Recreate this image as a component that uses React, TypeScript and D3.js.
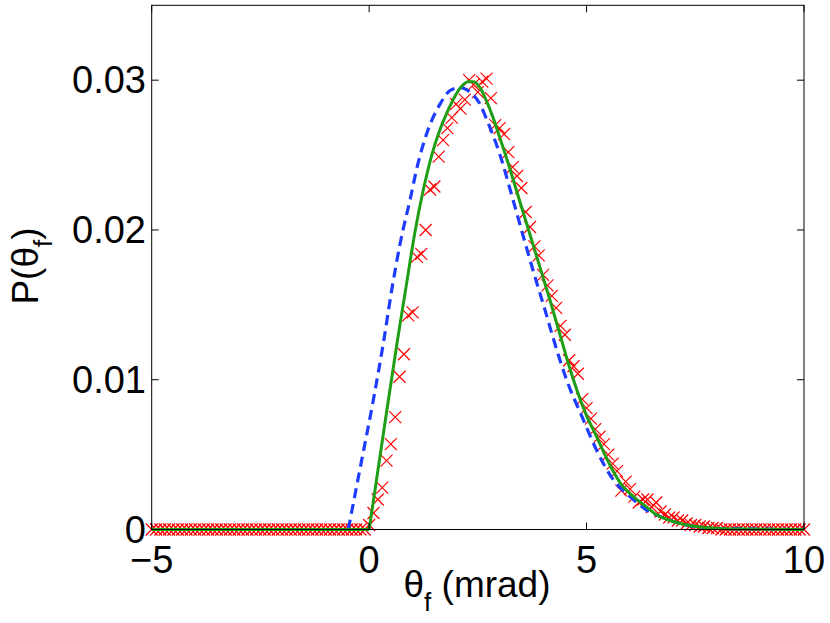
import React from "react";
import * as d3 from "d3";

type Pt = [number, number];

const WIDTH = 830;
const HEIGHT = 623;
const FONT = "'Liberation Sans', Arial, Helvetica, sans-serif";

// measured histogram, one value every 0.1 mrad from -5 to 10
const histStep = 0.1;
const histStart = -5;
const histLeftZeros = 50; // -5.0 .. -0.1
const histValues = [
  0.0003, 0.0011, 0.002, 0.0028, 0.0046, 0.0057, 0.0075, 0.0102, 0.0117, 0.0143,
  0.0145, 0.0182, 0.0184, 0.02, 0.0227, 0.0229, 0.0249, 0.026, 0.0268, 0.0275,
  0.0284, 0.0281, 0.0287, 0.03, 0.0297, 0.0292, 0.0299, 0.0301, 0.0288, 0.027,
  0.0268, 0.0264, 0.0252, 0.0242, 0.0236, 0.0228, 0.0212, 0.0202, 0.0189, 0.0183,
  0.017, 0.0163, 0.0156, 0.0148, 0.0136, 0.013, 0.0113, 0.0109, 0.0104, 0.0087,
  0.0081, 0.0074, 0.0067, 0.0062, 0.0057, 0.005, 0.0044, 0.0039, 0.0026, 0.0032,
  0.0027, 0.0022, 0.0018, 0.002, 0.002, 0.0015, 0.0018, 0.0012, 0.001, 0.0008,
  0.0008, 0.0006, 0.0006, 0.0004, 0.0003, 0.0003, 0.0002, 0.0002, 0.0001, 0.0001,
  0.0001,
];
const histRightZeros = 20; // 8.1 .. 10.0
const histP = [
  ...Array(histLeftZeros).fill(0),
  ...histValues,
  ...Array(histRightZeros).fill(0),
];

// solid green model
const greenCurve: Pt[] = [
  [0, 0], [0.2, 0.0039], [0.44, 0.0086], [0.65, 0.0126], [0.86, 0.0164],
  [1.05, 0.0198], [1.24, 0.0226], [1.45, 0.0251], [1.63, 0.0267], [1.8, 0.0279],
  [1.95, 0.0288], [2.1, 0.0295], [2.27, 0.0299], [2.4, 0.0299], [2.55, 0.0295],
  [2.7, 0.0286], [2.85, 0.0275], [3.0, 0.0262], [3.17, 0.0247], [3.35, 0.023],
  [3.54, 0.0212], [3.74, 0.0193], [3.94, 0.0174], [4.16, 0.0153], [4.39, 0.013],
  [4.6, 0.0109], [4.84, 0.0088], [5.0, 0.0076], [5.23, 0.0062], [5.42, 0.005],
  [5.61, 0.0039], [5.8, 0.003], [6.0, 0.0024], [6.2, 0.0019], [6.38, 0.0015],
  [6.6, 0.001], [6.92, 0.0006], [7.3, 0.0003], [7.9, 0.0001], [8.5, 0.00003],
  [10, 0],
];
const greenFlat: Pt[] = [[-5, 0], [0, 0]];

// dashed blue model
const blueCurve: Pt[] = [
  [-0.48, 0], [-0.2, 0.0042], [0.1, 0.0087], [0.33, 0.0125], [0.52, 0.016],
  [0.72, 0.0192], [0.94, 0.022], [1.12, 0.0244], [1.32, 0.0264], [1.63, 0.0284],
  [1.86, 0.0293], [2.09, 0.0295], [2.32, 0.0292], [2.55, 0.0284], [2.7, 0.0274],
  [3.0, 0.0251], [3.31, 0.022], [3.62, 0.0188], [3.81, 0.0169], [4.04, 0.0147],
  [4.23, 0.0128], [4.54, 0.01], [4.9, 0.0075], [5.23, 0.0053], [5.62, 0.0033],
  [6.0, 0.0022], [6.38, 0.0013], [6.75, 0.0008], [7.15, 0.0004], [7.8, 0.0001],
  [10, 0],
];
const blueFlat: Pt[] = [[-5, 0], [-0.48, 0]];

const xTicks = [-5, 0, 5, 10];
const yTicks = [0, 0.01, 0.02, 0.03];
const yTickLabels = ["0", "0.01", "0.02", "0.03"];
const xTickLabels = ["\u22125", "0", "5", "10"];

const LEFT = 151.7;
const RIGHT = 804;
const TOP = 5.3;
const BOTTOM = 529.5;
const TICK = 7;

const App = () => {
  const x = d3.scaleLinear().domain([-5, 10]).range([LEFT, RIGHT]);
  const y = d3.scaleLinear().domain([0, 0.035]).range([BOTTOM, TOP]);

  const smooth = d3
    .line<Pt>()
    .x((d) => x(d[0]))
    .y((d) => y(d[1]))
    .curve(d3.curveMonotoneX);
  const straight = d3
    .line<Pt>()
    .x((d) => x(d[0]))
    .y((d) => y(d[1]));

  const m = 6;

  return (
    <svg
      width={WIDTH}
      height={HEIGHT}
      style={{ position: "absolute", left: 0, top: 0, background: "#fff" }}
      fontFamily={FONT}
    >
      <rect width={WIDTH} height={HEIGHT} fill="#fff" />

      {/* histogram markers */}
      <g stroke="#ff0000" strokeWidth={1.2} fill="none">
        {histP.map((p, i) => {
          const cx = x(histStart + i * histStep);
          const cy = y(p);
          return (
            <path
              key={i}
              d={`M${cx - m},${cy - m}L${cx + m},${cy + m}M${cx - m},${cy + m}L${cx + m},${cy - m}`}
            />
          );
        })}
      </g>

      {/* dashed blue */}
      <g stroke="#1e3cff" strokeWidth={3.2} fill="none" strokeDasharray="10,6">
        <path d={straight(blueFlat)!} />
        <path d={smooth(blueCurve)!} />
      </g>

      {/* solid green */}
      <g stroke="#1e9e14" strokeWidth={3} fill="none" strokeLinejoin="round">
        <path d={straight(greenFlat)!} />
        <path d={smooth(greenCurve)!} />
      </g>

      {/* box */}
      <rect
        x={LEFT}
        y={TOP}
        width={RIGHT - LEFT}
        height={BOTTOM - TOP}
        fill="none"
        stroke="#000"
        strokeWidth={1}
      />
      <g stroke="#000" strokeWidth={1}>
        {xTicks.map((t) => (
          <g key={t}>
            <line x1={x(t)} x2={x(t)} y1={BOTTOM} y2={BOTTOM - TICK} />
            <line x1={x(t)} x2={x(t)} y1={TOP} y2={TOP + TICK} />
          </g>
        ))}
        {yTicks.map((t) => (
          <g key={t}>
            <line x1={LEFT} x2={LEFT + TICK} y1={y(t)} y2={y(t)} />
            <line x1={RIGHT} x2={RIGHT - TICK} y1={y(t)} y2={y(t)} />
          </g>
        ))}
      </g>

      {/* tick labels */}
      <g fontSize={38} fill="#000">
        {xTicks.map((t, i) => (
          <text key={t} x={x(t)} y={573} textAnchor="middle">
            {xTickLabels[i]}
          </text>
        ))}
        {yTicks.map((t, i) => (
          <text key={t} x={146} y={y(t) + 13} textAnchor="end">
            {yTickLabels[i]}
          </text>
        ))}
      </g>

      {/* axis labels */}
      <text x={477} y={597} fontSize={37} textAnchor="middle" fill="#000">
        θ
        <tspan fontSize={26} dy={14}>f</tspan>
        <tspan dy={-14}> (mrad)</tspan>
      </text>
      <text
        transform="translate(38,266) rotate(-90)"
        fontSize={37}
        textAnchor="middle"
        fill="#000"
      >
        P(θ
        <tspan fontSize={26} dy={14}>f</tspan>
        <tspan dy={-14}>)</tspan>
      </text>
    </svg>
  );
};

export default App;
